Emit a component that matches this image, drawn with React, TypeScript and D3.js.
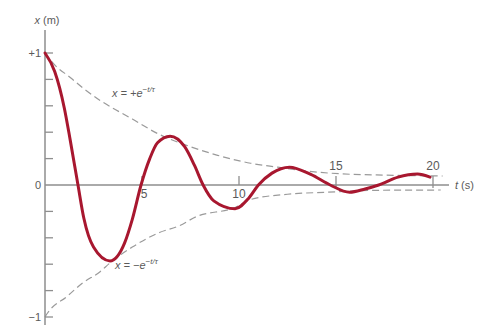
import React from "react";
import * as d3 from "d3";

// Damped oscillation x(t), sampled points (t in s, x in m)
const curveT = [0, 0.5, 1.0, 1.3, 1.7, 2.0, 2.5, 3.35, 4.1, 4.5, 4.95, 5.4, 5.8, 6.45, 7.2, 7.7, 8.15, 8.7, 9.8, 10.5, 11.0, 11.7, 12.6, 13.7, 14.7, 15.7, 16.5, 17.2, 18.2, 19.2, 19.85];
const curveX = [1.0, 0.86, 0.58, 0.34, 0, -0.25, -0.47, -0.575, -0.44, -0.26, 0, 0.2, 0.32, 0.37, 0.29, 0.15, 0, -0.12, -0.18, -0.1, 0, 0.09, 0.135, 0.08, 0, -0.055, -0.03, 0, 0.06, 0.083, 0.06];

// Upper envelope x = +e^{-t/τ}
const upperT = [0, 0.5, 1.3, 2.0, 2.85, 4.5, 5.8, 7.5, 8.9, 10.6, 12.0, 13.5, 15.2, 17.5, 20.5];
const upperX = [1.0, 0.91, 0.815, 0.73, 0.64, 0.5, 0.39, 0.29, 0.225, 0.165, 0.135, 0.105, 0.085, 0.075, 0.068];

// Lower envelope x = −e^{-t/τ}
const lowerT = [0, 0.15, 1.13, 1.96, 2.84, 3.35, 4.5, 5.9, 6.9, 7.8, 9.8, 10.6, 12.5, 14.5, 17.3, 20.4];
const lowerX = [-1.0, -0.966, -0.845, -0.74, -0.657, -0.59, -0.47, -0.36, -0.31, -0.24, -0.17, -0.11, -0.07, -0.055, -0.04, -0.038];

// Axis ticks and labels
const tTicks = [5, 10, 15, 20];
const xMinorTicks = [-1, -0.8, -0.6, -0.4, -0.2, 0.2, 0.4, 0.6, 0.8, 1];
const xLabelValues = [1, 0, -1];
const xLabelTexts = ["+1", "0", "\u22121"];

const W = 479;
const H = 325;

const t = d3.scaleLinear().domain([0, 20]).range([45, 433]);
const x = d3.scaleLinear().domain([-1, 1]).range([317, 53]);

const toPts = (ts: number[], xs: number[]) => ts.map((v, i) => [v, xs[i]] as [number, number]);

const line = d3
  .line<[number, number]>()
  .x((d) => t(d[0]))
  .y((d) => x(d[1]))
  .curve(d3.curveMonotoneX);

const axisColor = "#8e8e8e";
const textColor = "#5a5a5a";
const font = "'Liberation Sans', Arial, sans-serif";

export default function App() {
  return (
    <svg
      width={W}
      height={H}
      style={{ position: "absolute", left: 0, top: 0, background: "#fff" }}
      fontFamily={font}
    >
      {/* envelopes */}
      <path d={line(toPts(upperT, upperX)) || ""} fill="none" stroke="#9a9a9a" strokeWidth={1.2} strokeDasharray="7 4" />
      <path d={line(toPts(lowerT, lowerX)) || ""} fill="none" stroke="#9a9a9a" strokeWidth={1.2} strokeDasharray="7 4" />

      {/* axes */}
      <line x1={t(0)} x2={t(0)} y1={30} y2={H} stroke={axisColor} strokeWidth={1.5} />
      <line x1={t(0)} x2={449} y1={x(0)} y2={x(0)} stroke={axisColor} strokeWidth={1.5} />
      {xMinorTicks.map((v) => (
        <line key={"yt" + v} x1={t(0)} x2={t(0) + 8} y1={x(v)} y2={x(v)} stroke={axisColor} strokeWidth={1.3} />
      ))}
      {tTicks.map((v) => (
        <line key={"tt" + v} x1={t(v)} x2={t(v)} y1={x(0) - 9} y2={x(0) + (v > 12 ? 3 : 0)} stroke={axisColor} strokeWidth={1.3} />
      ))}

      {/* oscillation */}
      <path d={line(toPts(curveT, curveX)) || ""} fill="none" stroke="#a8172f" strokeWidth={3} strokeLinejoin="round" strokeLinecap="round" />

      {/* tick labels */}
      {xLabelValues.map((v, i) => (
        <text key={"yl" + v} x={t(0) - 4} y={x(v)} dy="0.35em" textAnchor="end" fontSize={11} fill={textColor}>
          {xLabelTexts[i]}
        </text>
      ))}
      {tTicks.map((v) => (
        <text
          key={"tl" + v}
          x={t(v) + (v === 5 ? 2 : 0)}
          y={v > 12 ? x(0) - 19 : x(0) + 9}
          dy="0.35em"
          textAnchor="middle"
          fontSize={12}
          fill={textColor}
        >
          {v}
        </text>
      ))}

      {/* axis titles */}
      <text x={t(0) + 2} y={20} dy="0.35em" textAnchor="middle" fontSize={11} fill={textColor}>
        <tspan fontStyle="italic">x</tspan> (m)
      </text>
      <text x={455} y={x(0)} dy="0.35em" fontSize={11} fill={textColor}>
        <tspan fontStyle="italic">t</tspan> (s)
      </text>

      {/* envelope labels */}
      <text x={112} y={97} fontSize={11} fill={textColor} fontStyle="italic">
        x = +e
        <tspan fontSize={8} dy={-5}>
          {"\u2212t/\u03c4"}
        </tspan>
      </text>
      <text x={115} y={269} fontSize={11} fill={textColor} fontStyle="italic">
        x = {"\u2212"}e
        <tspan fontSize={8} dy={-5}>
          {"\u2212t/\u03c4"}
        </tspan>
      </text>
    </svg>
  );
}
